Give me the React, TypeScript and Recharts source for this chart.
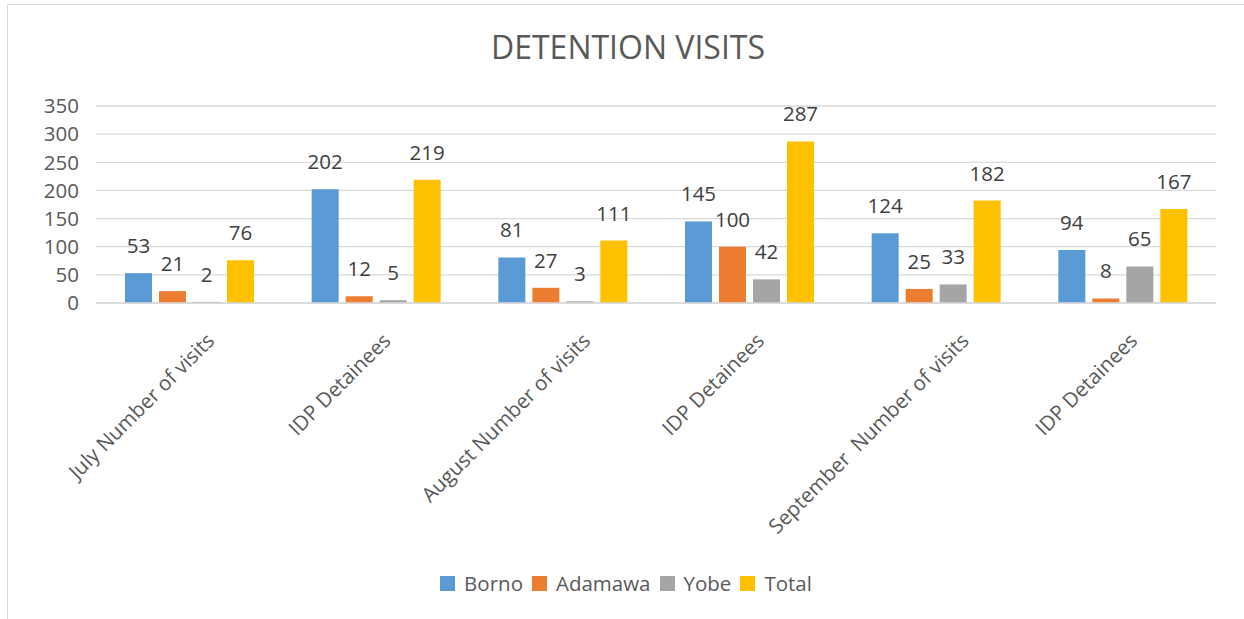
import React from "react";
import { BarChart, Bar, XAxis, YAxis, CartesianGrid, LabelList, Legend } from "recharts";

const categories = [
  "July Number of visits",
  "IDP Detainees",
  "August Number of visits",
  "IDP Detainees",
  "September  Number of visits",
  "IDP Detainees",
];
const borno = [53, 202, 81, 145, 124, 94];
const adamawa = [21, 12, 27, 100, 25, 8];
const yobe = [2, 5, 3, 42, 33, 65];
const total = [76, 219, 111, 287, 182, 167];
const yTicks = [0, 50, 100, 150, 200, 250, 300, 350];

const seriesNames = ["Borno", "Adamawa", "Yobe", "Total"];
const seriesColors = ["#5B9BD5", "#ED7D31", "#A5A5A5", "#FFC000"];

const data = categories.map((c, i) => ({
  name: c,
  Borno: borno[i],
  Adamawa: adamawa[i],
  Yobe: yobe[i],
  Total: total[i],
}));

const FONT = "'Open Sans', sans-serif";

const XTick = (props: any) => {
  const { x, y, payload } = props;
  const label: string = payload.value;
  const shift = 16 + (label.length - 13) * 1.3;
  return (
    <g transform={`translate(${x + shift},${y + 39})`}>
      <text
        transform="rotate(-45)"
        textAnchor="end"
        fill="#595959"
        fontSize={20.5}
        fontFamily={FONT}
        style={{ whiteSpace: "pre" }}
      >
        {label}
      </text>
    </g>
  );
};

const LegendContent = () => (
  <div
    style={{
      display: "flex",
      justifyContent: "center",
      alignItems: "center",
      fontFamily: FONT,
      fontSize: 20.5,
      color: "#595959",
      paddingLeft: 17,
    }}
  >
    {seriesNames.map((n, i) => (
      <div key={n} style={{ display: "flex", alignItems: "center", marginRight: 9 }}>
        <span
          style={{
            display: "inline-block",
            width: 15,
            height: 15,
            background: seriesColors[i],
            marginRight: 9,
          }}
        />
        <span>{n}</span>
      </div>
    ))}
  </div>
);

export default function App() {
  return (
    <div
      style={{
        position: "absolute",
        left: 0,
        top: 0,
        width: 1244,
        height: 619,
        background: "#fff",
      }}
    >
      <div
        style={{
          position: "absolute",
          left: 7,
          top: 4,
          right: 0,
          bottom: 0,
          borderLeft: "1.5px solid #D9D9D9",
          borderTop: "1.5px solid #D9D9D9",
        }}
      />
      <div
        style={{
          position: "absolute",
          left: 6,
          top: 27,
          width: 1244,
          textAlign: "center",
          fontFamily: FONT,
          fontSize: 32,
          lineHeight: "40px",
          color: "#595959",
        }}
      >
        DETENTION VISITS
      </div>
      <div style={{ position: "absolute", left: 0, top: 0 }}>
        <BarChart
          width={1244}
          height={619}
          data={data}
          margin={{ top: 106, right: 28, bottom: 0, left: 0 }}
          barSize={27}
          barGap={7}
        >
          <CartesianGrid vertical={false} stroke="#D9D9D9" strokeWidth={1.3} />
          <XAxis
            dataKey="name"
            height={316}
            interval={0}
            tickLine={false}
            tickSize={0}
            tickMargin={0}
            axisLine={{ stroke: "#D9D9D9", strokeWidth: 1.3 }}
            tick={<XTick />}
          />
          <YAxis
            width={96}
            domain={[0, 350]}
            ticks={yTicks}
            interval={0}
            axisLine={false}
            tickLine={false}
            tickSize={6}
            tickMargin={11}
            tick={{ fill: "#595959", fontSize: 20.5, fontFamily: FONT }}
          />
          <Legend
            layout="horizontal"
            verticalAlign="middle"
            align="center"
            wrapperStyle={{ top: 569, left: 0, width: 1244 }}
            content={<LegendContent />}
          />
          {seriesNames.map((n, i) => (
            <Bar key={n} dataKey={n} fill={seriesColors[i]} isAnimationActive={false}>
              <LabelList
                dataKey={n}
                position="top"
                offset={20}
                fill="#404040"
                fontSize={20.5}
                fontFamily={FONT}
              />
            </Bar>
          ))}
        </BarChart>
      </div>
    </div>
  );
}
